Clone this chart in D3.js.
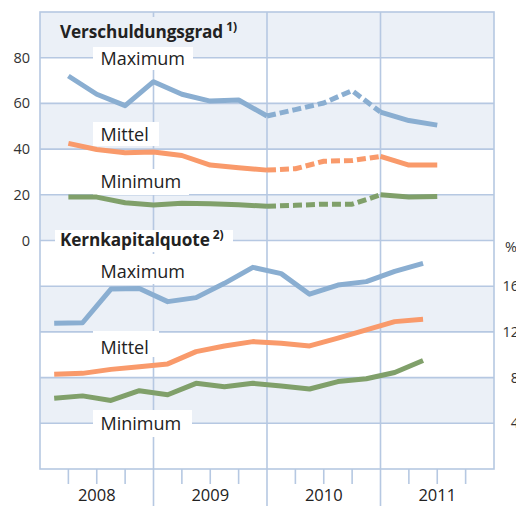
<!DOCTYPE html>
<html><head><meta charset="utf-8">
<script src="https://cdn.jsdelivr.net/npm/d3@7"></script>
<style>
html,body{margin:0;padding:0;background:#fff;}
svg{display:block;font-family:"Open Sans",sans-serif;}
</style></head>
<body>
<svg id="c" width="516" height="506"></svg>
<script>
// ---- data ----
const quarters = ["2008Q1","2008Q2","2008Q3","2008Q4","2009Q1","2009Q2","2009Q3","2009Q4",
                  "2010Q1","2010Q2","2010Q3","2010Q4","2011Q1","2011Q2","2011Q3","2011Q4"];
const years = ["2008","2009","2010","2011"];
const seriesQuarters = quarters.slice(0,14);
// Verschuldungsgrad (left axis)
const vgMax  = [72, 64, 59, 69.5, 64, 61, 61.5, 54.5, 57.3, 60.2, 65.6, 56.2, 52.5, 50.5];
const vgMean = [42.5, 39.8, 38.4, 38.7, 37.2, 33, 31.8, 30.8, 31.4, 34.7, 35, 36.8, 33, 33];
const vgMin  = [19, 19, 16.5, 15.5, 16.3, 16.1, 15.6, 15, 15.4, 15.9, 15.9, 20, 19, 19.3];
// index range of the dashed part
const dashedFrom = 7, dashedTo = 11;
// Kernkapitalquote (right axis, %)
const kkMax  = [12.75, 12.8, 15.75, 15.8, 14.65, 15.0, 16.25, 17.65, 17.1, 15.3, 16.1, 16.4, 17.3, 18.0];
const kkMean = [8.3, 8.37, 8.72, 8.95, 9.2, 10.27, 10.77, 11.15, 11.0, 10.77, 11.45, 12.17, 12.9, 13.1];
const kkMin  = [6.2, 6.4, 6.0, 6.85, 6.5, 7.5, 7.2, 7.5, 7.27, 7.0, 7.65, 7.9, 8.45, 9.5];
const leftTicks = [0, 20, 40, 60, 80];
const rightTicks = [4, 8, 12, 16];
const titleTop = "Verschuldungsgrad", noteTop = "1)";
const titleBottom = "Kernkapitalquote", noteBottom = "2)";
const labels = ["Maximum", "Mittel", "Minimum"];

// ---- layout ----
const L = 40, R = 494, T = 12, B = 469;
const cBlue = "#8aaed1", cOrange = "#f99a6b", cGreen = "#80a06a";
const band = "#ebf0f7", grid = "#b6c8e2";

const svg = d3.select("#c");
const x = d3.scaleBand().domain(quarters).range([L, R]).padding(0);
const bw = x.bandwidth();
const yL = d3.scaleLinear().domain([-100, 100]).range([B, T]);
const yR = d3.scaleLinear().domain([0, 40]).range([B, T]);

// bands (every 20 units on the left scale)
const bandEdges = d3.range(-100, 100, 20);
svg.append("g").selectAll("rect").data(bandEdges).join("rect")
  .attr("x", L).attr("width", R - L)
  .attr("y", d => yL(d + 20)).attr("height", d => yL(d) - yL(d + 20))
  .attr("fill", (d, i) => (i % 2 === 1) ? band : "#fff");

// horizontal grid
svg.append("g").selectAll("line").data(d3.range(-80, 100, 20)).join("line")
  .attr("x1", L).attr("x2", R).attr("y1", d => yL(d)).attr("y2", d => yL(d))
  .attr("stroke", grid).attr("stroke-width", 1.6);

// year lines (extend to bottom)
svg.append("g").selectAll("line").data(years.slice(1)).join("line")
  .attr("x1", d => x(d + "Q1")).attr("x2", d => x(d + "Q1"))
  .attr("y1", T).attr("y2", 506)
  .attr("stroke", grid).attr("stroke-width", 1.6);
// quarter ticks
svg.append("g").selectAll("line").data(quarters.filter(q => !q.endsWith("Q1"))).join("line")
  .attr("x1", d => x(d)).attr("x2", d => x(d)).attr("y1", B).attr("y2", B + 15)
  .attr("stroke", grid).attr("stroke-width", 1.6);
// frame
svg.append("rect").attr("x", L).attr("y", T).attr("width", R - L).attr("height", B - T)
  .attr("fill", "none").attr("stroke", grid).attr("stroke-width", 1.6);

// year labels
svg.append("g").selectAll("text").data(years).join("text")
  .attr("x", d => x(d + "Q1") + 2 * bw).attr("y", 501)
  .attr("text-anchor", "middle").attr("font-size", 16.5).attr("fill", "#222")
  .text(d => d);

// left ticks
svg.append("g").selectAll("text").data(leftTicks).join("text")
  .attr("x", 30).attr("y", d => yL(d)).attr("dy", "0.35em")
  .attr("text-anchor", "end").attr("font-size", 14.5).attr("fill", "#333")
  .text(d => d);
// right ticks
svg.append("g").selectAll("text").data(rightTicks).join("text")
  .attr("x", 519).attr("y", d => yR(d)).attr("dy", "0.35em")
  .attr("text-anchor", "end").attr("font-size", 14.5).attr("fill", "#333")
  .text(d => d);
svg.append("text").attr("x", 505).attr("y", yR(20) + 11).attr("font-size", 14.5)
  .attr("fill", "#333").text("%");

// label boxes
function box(x0, y0, w, h, fill) {
  svg.append("rect").attr("x", x0).attr("y", y0).attr("width", w).attr("height", h).attr("fill", fill);
}
box(55, 17, 192, 30, band);      // top title
box(93, 47, 100, 23, "#fff");    // top Maximum
box(93, 122, 66, 24, "#fff");    // top Mittel
box(93, 169, 96, 26, "#fff");    // top Minimum
box(55, 230, 178, 22, "#fff");   // bottom title
box(93, 254, 100, 30, "#fff");   // bottom Maximum
box(93, 331, 66, 26, "#fff");    // bottom Mittel
box(93, 410, 99, 27, "#fff");    // bottom Minimum

// titles
function title(txt, note, yb) {
  const t = svg.append("text").attr("x", 60).attr("y", yb).attr("font-size", 17.2)
    .attr("font-weight", "bold").attr("fill", "#222").attr("letter-spacing", -0.1).text(txt);
  const w = t.node().getComputedTextLength();
  svg.append("text").attr("x", 60 + w + 3).attr("y", yb - 7).attr("font-size", 12)
    .attr("font-weight", "bold").attr("fill", "#222").text(note);
}
title(titleTop, noteTop, 37.5);
title(titleBottom, noteBottom, 246);

// series labels
const lblPos = [65, 140.5, 188, 278, 354, 430];
[0,1,2,0,1,2].forEach((k, i) => {
  svg.append("text").attr("x", 100.5).attr("y", lblPos[i]).attr("font-size", 18)
    .attr("fill", "#222").text(labels[k]);
});

// lines
const lineTop = d3.line().x(d => x(d.q) + bw).y(d => yL(d.v));
const lineBot = d3.line().x(d => x(d.q) + bw / 2).y(d => yR(d.v));
function drawTop(vals, color) {
  const pts = vals.map((v, i) => ({q: seriesQuarters[i], v}));
  const segs = [
    {p: pts.slice(0, dashedFrom + 1), dash: null},
    {p: pts.slice(dashedFrom, dashedTo + 1), dash: "9,4"},
    {p: pts.slice(dashedTo), dash: null}
  ];
  segs.forEach(s => svg.append("path").attr("d", lineTop(s.p)).attr("fill", "none")
    .attr("stroke", color).attr("stroke-width", 5).attr("stroke-linejoin", "round")
    .attr("stroke-dasharray", s.dash));
}
function drawBot(vals, color) {
  const pts = vals.map((v, i) => ({q: seriesQuarters[i], v}));
  svg.append("path").attr("d", lineBot(pts)).attr("fill", "none")
    .attr("stroke", color).attr("stroke-width", 5).attr("stroke-linejoin", "round");
}
drawTop(vgMax, cBlue); drawTop(vgMean, cOrange); drawTop(vgMin, cGreen);
drawBot(kkMax, cBlue); drawBot(kkMean, cOrange); drawBot(kkMin, cGreen);
</script>
</body></html>
